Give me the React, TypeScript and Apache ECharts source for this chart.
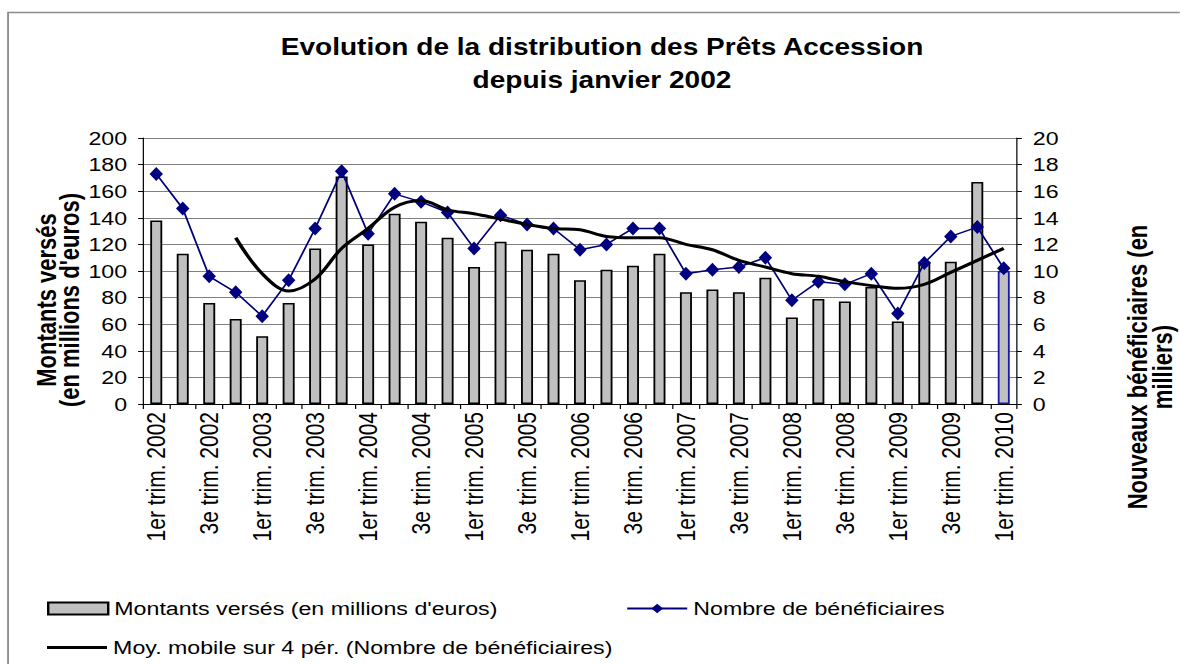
import React, { useEffect, useRef } from "react";
import * as echarts from "echarts";

const categories = [
  "1er trim. 2002", "2e trim. 2002", "3e trim. 2002", "4e trim. 2002",
  "1er trim. 2003", "2e trim. 2003", "3e trim. 2003", "4e trim. 2003",
  "1er trim. 2004", "2e trim. 2004", "3e trim. 2004", "4e trim. 2004",
  "1er trim. 2005", "2e trim. 2005", "3e trim. 2005", "4e trim. 2005",
  "1er trim. 2006", "2e trim. 2006", "3e trim. 2006", "4e trim. 2006",
  "1er trim. 2007", "2e trim. 2007", "3e trim. 2007", "4e trim. 2007",
  "1er trim. 2008", "2e trim. 2008", "3e trim. 2008", "4e trim. 2008",
  "1er trim. 2009", "2e trim. 2009", "3e trim. 2009", "4e trim. 2009",
  "1er trim. 2010",
];

const montants = [
  138, 113, 76, 64, 51, 76, 117, 171, 120, 143, 137, 125,
  103, 122, 116, 113, 93, 101, 104, 113, 84, 86, 84, 95,
  65, 79, 77, 88, 62, 107, 107, 167, 100,
];

const beneficiaires = [
  17.3, 14.7, 9.6, 8.4, 6.6, 9.3, 13.2, 17.5, 12.8, 15.8, 15.2, 14.4,
  11.7, 14.2, 13.5, 13.2, 11.6, 12.0, 13.2, 13.2, 9.8, 10.1, 10.3, 11.0,
  7.8, 9.2, 9.0, 9.8, 6.8, 10.6, 12.6, 13.3, 10.2,
];

const moyenneMobile = [
  null, null, null, 12.5, 9.8, 8.5, 9.4, 11.7, 13.2, 14.8, 15.3, 14.6,
  14.3, 13.9, 13.5, 13.2, 13.1, 12.6, 12.5, 12.5, 12.0, 11.6, 10.8, 10.3,
  9.8, 9.6, 9.2, 8.9, 8.7, 9.0, 9.9, 10.8, 11.7,
];

const leftTicks = { min: 0, max: 200, interval: 20 };
const rightTicks = { min: 0, max: 20, interval: 2 };

const FONT = "'Liberation Sans', Arial, sans-serif";
// the reference image is stretched horizontally
const S = 1.22;
const W = Math.round(1180 / S);
const px = (x: number) => x / S;

export default function App() {
  const ref = useRef<HTMLDivElement>(null);
  useEffect(() => {
    if (!ref.current) return;
    const chart = echarts.init(ref.current, undefined, { renderer: "svg" });
    const barData = montants.map((v, i) =>
      i === montants.length - 1
        ? { value: v, itemStyle: { borderColor: "#1a1aa8" } }
        : v
    );
    const legendText = { fontFamily: FONT, fontSize: 19, color: "#000" };
    chart.setOption({
      animation: false,
      backgroundColor: "#ffffff",
      textStyle: { fontFamily: FONT },
      title: {
        text: "Evolution de la distribution des Prêts Accession\ndepuis janvier 2002",
        left: px(602),
        top: 30,
        padding: 0,
        textAlign: "center",
        textStyle: {
          fontFamily: FONT,
          fontSize: 23,
          fontWeight: "bold",
          color: "#000",
          lineHeight: 33,
        },
      },
      grid: { left: px(143), right: W - px(1017), top: 138, bottom: 260, containLabel: false },
      legend: [
        {
          left: px(47),
          top: 599,
          padding: 0,
          itemWidth: px(60),
          itemHeight: 12,
          icon: "rect",
          data: [{ name: "Montants versés (en millions d'euros)" }],
          textStyle: legendText,
        },
        {
          left: px(626),
          top: 599,
          padding: 0,
          itemWidth: px(60),
          itemHeight: 12,
          data: [{ name: "Nombre de bénéficiaires" }],
          textStyle: legendText,
        },
        {
          left: px(47),
          top: 638,
          padding: 0,
          itemWidth: px(60),
          itemHeight: 3,
          data: [{ name: "Moy. mobile sur 4 pér. (Nombre de bénéficiaires)", icon: "rect" }],
          itemStyle: { color: "#000", borderWidth: 0 },
          textStyle: { ...legendText, lineHeight: 19 },
        },
      ],
      xAxis: {
        type: "category",
        data: categories,
        boundaryGap: true,
        axisLine: { show: true, lineStyle: { color: "#000", width: 1 } },
        axisTick: { show: true, interval: 0, length: 5, lineStyle: { color: "#000" } },
        axisLabel: {
          interval: 1,
          rotate: 90,
          fontFamily: FONT,
          fontSize: 21,
          color: "#000",
          margin: 8,
        },
        splitLine: { show: false },
      },
      yAxis: [
        {
          type: "value",
          min: leftTicks.min,
          max: leftTicks.max,
          interval: leftTicks.interval,
          position: "left",
          axisLine: { show: true, lineStyle: { color: "#000" } },
          axisTick: { show: true, length: 4, lineStyle: { color: "#000" } },
          axisLabel: { fontFamily: FONT, fontSize: 19, color: "#000", margin: 13 },
          splitLine: { show: true, lineStyle: { color: "#808080", width: 1 } },
        },
        {
          type: "value",
          min: rightTicks.min,
          max: rightTicks.max,
          interval: rightTicks.interval,
          position: "right",
          axisLine: { show: true, lineStyle: { color: "#000" } },
          axisTick: { show: true, length: 4, lineStyle: { color: "#000" } },
          axisLabel: { fontFamily: FONT, fontSize: 19, color: "#000", margin: 13 },
          splitLine: { show: false },
        },
      ],
      series: [
        {
          name: "Montants versés (en millions d'euros)",
          type: "bar",
          yAxisIndex: 0,
          data: barData,
          barWidth: px(12),
          itemStyle: { color: "#c0c0c0", borderColor: "#000", borderWidth: 1.5 },
        },
        {
          name: "Nombre de bénéficiaires",
          type: "line",
          yAxisIndex: 1,
          data: beneficiaires,
          symbol: "diamond",
          symbolSize: [11, 14],
          lineStyle: { color: "#00007a", width: 1.5 },
          itemStyle: { color: "#000080" },
          z: 3,
        },
        {
          name: "Moy. mobile sur 4 pér. (Nombre de bénéficiaires)",
          type: "line",
          yAxisIndex: 1,
          data: moyenneMobile,
          smooth: 0.35,
          showSymbol: false,
          symbol: "none",
          lineStyle: { color: "#000", width: 3 },
          itemStyle: { color: "#000" },
          z: 4,
        },
      ],
      graphic: [
        {
          type: "rect",
          left: px(5),
          top: 10,
          shape: { x: 0, y: 0, width: 1200, height: 700 },
          style: { fill: "none", stroke: "#8c8c8c", lineWidth: 1.5 },
          silent: true,
        },
        {
          type: "text",
          x: px(58),
          y: 300,
          rotation: Math.PI / 2,
          style: {
            text: "Montants versés\n(en millions d'euros)",
            fontFamily: FONT,
            fontSize: 22,
            fontWeight: "bold",
            fill: "#000",
            align: "center",
            verticalAlign: "middle",
            lineHeight: 23 / S,
          },
        },
        {
          type: "text",
          x: px(1150),
          y: 367,
          rotation: Math.PI / 2,
          style: {
            text: "Nouveaux bénéficiaires (en\nmilliers)",
            fontFamily: FONT,
            fontSize: 22,
            fontWeight: "bold",
            fill: "#000",
            align: "center",
            verticalAlign: "middle",
            lineHeight: 25 / S,
          },
        },
      ],
    });
    return () => chart.dispose();
  }, []);
  return (
    <div style={{ position: "fixed", left: 0, top: 0, width: 1180, height: 664, overflow: "hidden", background: "#fff" }}>
      <div
        ref={ref}
        style={{ width: W, height: 664, transform: `scaleX(${S})`, transformOrigin: "0 0" }}
      />
    </div>
  );
}
